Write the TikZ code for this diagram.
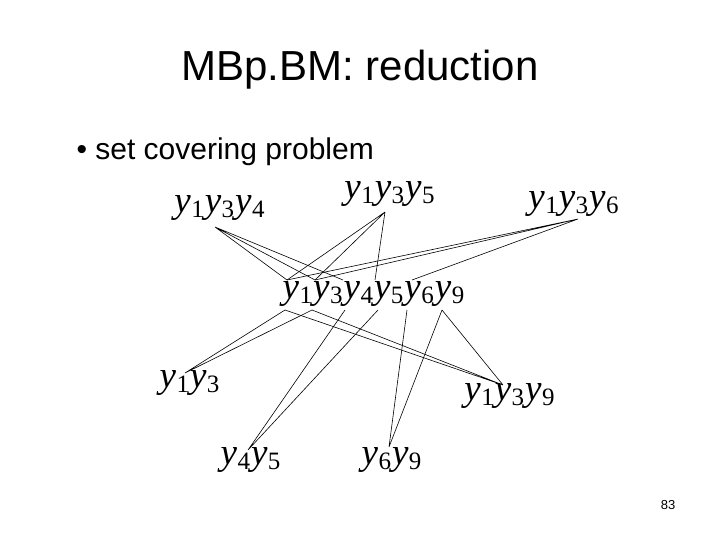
\documentclass[tikz,border=0pt]{standalone}
\usepackage{fontspec}
\setmainfont{Liberation Serif}
\newfontfamily\arial{Liberation Sans}
\newcommand\yv[1]{\textit{y}\kern0.5pt\raisebox{-0.3ex}{\fontsize{25}{25}\selectfont #1}\kern1pt}
\begin{document}
\begin{tikzpicture}[x=1pt,y=-1pt,
  lab/.style={inner sep=0pt,font=\fontsize{37}{38}\selectfont},
  ln/.style={draw,line width=0.6pt}]
\useasboundingbox (0,0) rectangle (720,540);
\node[font=\arial\fontsize{42}{44}\selectfont] (title) at (360,70) {MBp.BM: reduction};
\node[font=\arial\fontsize{30}{32}\selectfont,anchor=west] (bul) at (73,152) {\textbullet\ set covering problem};
\node[font=\arial\fontsize{13}{14}\selectfont] (pg) at (668,505) {83};
\node[lab] (a) at (220,208) {\yv1\yv3\yv4};
\node[lab] (b) at (390,194) {\yv1\yv3\yv5};
\node[lab] (c) at (574,204) {\yv1\yv3\yv6};
\node[lab] (m) at (374,294) {\yv1\yv3\yv4\yv5\yv6\yv9};
\node[lab] (d) at (190,383) {\yv1\yv3};
\node[lab] (e) at (510,396) {\yv1\yv3\yv9};
\node[lab] (f) at (251,460) {\yv4\yv5};
\node[lab] (g) at (392,460) {\yv6\yv9};
\coordinate (pa) at (215,227);
\coordinate (pb) at (385,212);
\coordinate (pc) at (578,219);
\coordinate (pd) at (185,373);
\coordinate (pe) at (503,385);
\coordinate (pf) at (248,450);
\coordinate (pg9) at (389,447);
\coordinate (t1) at (287,280);
\coordinate (t3) at (315,280);
\coordinate (t4) at (343,280);
\coordinate (t5) at (375,280);
\coordinate (t6) at (412,280);
\coordinate (b1) at (285,310);
\coordinate (b3) at (312,310);
\coordinate (b4) at (345,310);
\coordinate (b5) at (378,310);
\coordinate (b6) at (407,310);
\coordinate (b9) at (442,310);
\draw[ln] (pa) -- (t1) (pa) -- (t3) (pa) -- (t4);
\draw[ln] (pb) -- (t1) (pb) -- (t3) (pb) -- (t5);
\draw[ln] (pc) -- (t1) (pc) -- (t3) (pc) -- (t6);
\draw[ln] (pd) -- (b1) (pd) -- (b3);
\draw[ln] (pe) -- (b1) (pe) -- (b3) (pe) -- (b9);
\draw[ln] (pf) -- (b4) (pf) -- (b5);
\draw[ln] (pg9) -- (b6) (pg9) -- (b9);
\end{tikzpicture}
\end{document}
